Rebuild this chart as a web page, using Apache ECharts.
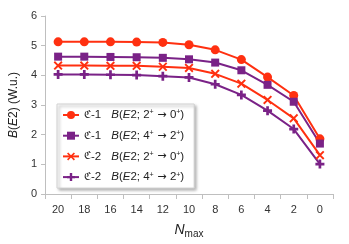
<!DOCTYPE html>
<html><head><meta charset="utf-8">
<script src="https://cdn.jsdelivr.net/npm/echarts@6/dist/echarts.min.js"></script>
<style>html,body{margin:0;padding:0;background:#fff}#c{width:349px;height:244px}</style>
</head><body><div id="c"></div>
<script>
var categories = ['20','18','16','14','12','10','8','6','4','2','0'];
var c1_2to0 = [5.13,5.13,5.13,5.12,5.11,5.03,4.86,4.53,3.94,3.32,1.86];
var c1_4to2 = [4.63,4.63,4.62,4.61,4.59,4.54,4.43,4.17,3.68,3.11,1.70];
var c2_2to0 = [4.33,4.33,4.32,4.32,4.29,4.25,4.05,3.72,3.17,2.55,1.31];
var c2_4to2 = [4.03,4.03,4.02,4.01,3.97,3.93,3.70,3.34,2.81,2.19,1.01];
var yTicks = [0,1,2,3,4,5,6];

var RED = '#ff3010', PURPLE = '#7a2287';
var plus = 'path://M3.5,0H6.5V3.5H10V6.5H6.5V10H3.5V6.5H0V3.5H3.5Z';
var cross = 'path://M0,1.5L1.5,0L5,3.5L8.5,0L10,1.5L6.5,5L10,8.5L8.5,10L5,6.5L1.5,10L0,8.5L3.5,5Z';
var font = 'Liberation Sans';
var chart = echarts.init(document.getElementById('c'));
function mk(name, data, color, symbol, size) {
  return {name: name, type: 'line', data: data, symbol: symbol, symbolSize: size,
    lineStyle: {color: color, width: 2}, itemStyle: {color: color}, animation: false};
}
var rich = {
  f: {fontFamily: 'DejaVu Serif', fontSize: 11, color: '#222'},
  n: {fontFamily: font, fontSize: 11.5, color: '#222', padding: [0, 10, 0, 0]},
  i: {fontFamily: font, fontStyle: 'italic', fontSize: 11.5, color: '#222'},
  t: {fontFamily: font, fontSize: 11.5, color: '#222'},
  a: {fontFamily: 'DejaVu Sans', fontSize: 11, color: '#222'},
  s: {fontFamily: font, fontSize: 7, color: '#222', verticalAlign: 'top', padding: [0,0,4,0]}
};
var labels = {
  'a': '{f|ℭ}{n|-1}{i|B}{t|(}{i|E}{t|2; 2}{s|+}{a| → }{t|0}{s|+}{t|)}',
  'b': '{f|ℭ}{n|-1}{i|B}{t|(}{i|E}{t|2; 4}{s|+}{a| → }{t|2}{s|+}{t|)}',
  'c': '{f|ℭ}{n|-2}{i|B}{t|(}{i|E}{t|2; 2}{s|+}{a| → }{t|0}{s|+}{t|)}',
  'd': '{f|ℭ}{n|-2}{i|B}{t|(}{i|E}{t|2; 4}{s|+}{a| → }{t|2}{s|+}{t|)}'
};
chart.setOption({
  animation: false,
  grid: {left: 42, right: 16, top: 16, bottom: 46},
  legend: {
    orient: 'vertical', left: 57, top: 104, padding: [5, 10, 5, 5], itemGap: 8.7,
    itemWidth: 16, itemHeight: 10,
    backgroundColor: '#fff', borderColor: '#d0d0d0', borderWidth: 1,
    shadowColor: 'rgba(0,0,0,0.35)', shadowBlur: 3, shadowOffsetX: 2, shadowOffsetY: 2,
    formatter: function (n) { return labels[n]; },
    textStyle: {rich: rich, fontSize: 11},
    data: ['a','b','c','d']
  },
  xAxis: {
    type: 'category', data: categories, boundaryGap: true,
    name: '{i|N}{s|max}', nameLocation: 'middle', nameGap: 27,
    nameTextStyle: {rich: {i: {fontFamily: font, fontStyle: 'italic', fontSize: 14, color: '#222'},
      s: {fontFamily: font, fontSize: 10, color: '#222', verticalAlign: 'bottom', padding: [8,0,0,0]}}},
    axisLine: {lineStyle: {color: '#bfbfbf', width: 1}},
    axisTick: {show: true, length: 5, lineStyle: {color: '#bfbfbf'}},
    axisLabel: {fontFamily: font, fontSize: 11, color: '#333', margin: 10}
  },
  yAxis: {
    type: 'value', min: yTicks[0], max: yTicks[yTicks.length-1], interval: 1,
    name: '{i|B}{t|(}{i|E}{t|2) (W.u.)}', nameLocation: 'middle', nameGap: 25, nameRotate: 90,
    nameTextStyle: {rich: {i: {fontFamily: font, fontStyle: 'italic', fontSize: 12, color: '#222'},
      t: {fontFamily: font, fontSize: 12, color: '#222'}}},
    splitLine: {show: false},
    axisLine: {show: true, lineStyle: {color: '#bfbfbf', width: 1}},
    axisTick: {show: true, length: 4, lineStyle: {color: '#bfbfbf'}},
    axisLabel: {fontFamily: font, fontSize: 11, color: '#333', margin: 8}
  },
  series: [
    mk('a', c1_2to0, RED, 'circle', 9),
    mk('b', c1_4to2, PURPLE, 'rect', 8),
    mk('c', c2_2to0, RED, cross, 9),
    mk('d', c2_4to2, PURPLE, plus, 9)
  ]
});
</script></body></html>
